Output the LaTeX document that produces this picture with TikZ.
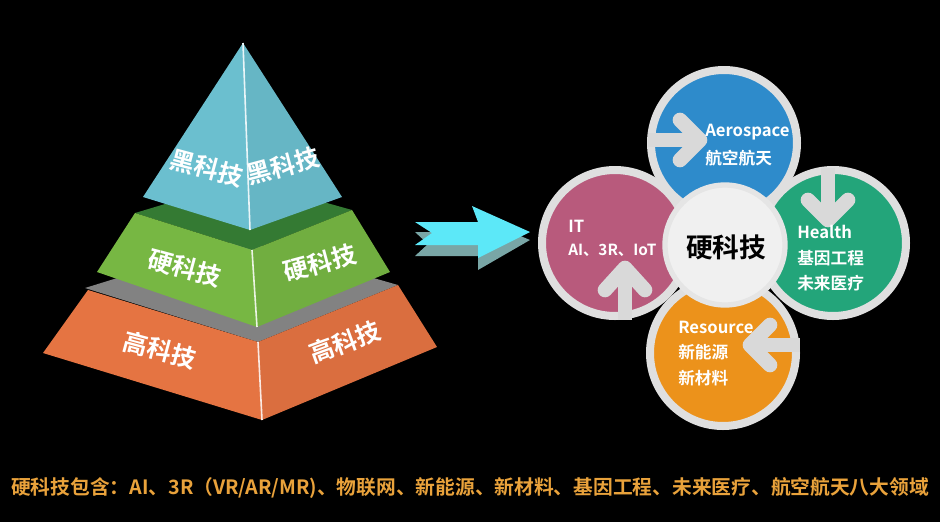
\documentclass[tikz,border=0pt]{standalone}
\usepackage{fontspec}
\setmainfont{Noto Sans CJK SC}[BoldFont={Noto Sans CJK SC Bold}]
\usepackage{tikz}
\usetikzlibrary{arrows.meta,positioning,calc}
\definecolor{topc}{HTML}{6BBFCF}
\definecolor{midc}{HTML}{77B743}
\definecolor{midd}{HTML}{347A33}
\definecolor{lowc}{HTML}{E57442}
\definecolor{blu}{HTML}{2E8BCB}
\definecolor{grn}{HTML}{23A57A}
\definecolor{org}{HTML}{EC921B}
\definecolor{pnk}{HTML}{B85A7C}
\definecolor{gold}{HTML}{E9A23B}
\definecolor{arr}{HTML}{5CE8F8}
\tikzset{
  lbl/.style={text=white, font=\bfseries\fontsize{18.5}{19}\selectfont, inner sep=0pt},
  ring/.style={draw=gray!25, line width=6pt},
  txt/.style={text=white, font=\bfseries\fontsize{12.5}{13}\selectfont, anchor=west, inner sep=0pt},
  garrow/.style={draw=gray!30, line width=11pt}
}
\begin{document}
\begin{tikzpicture}[x=0.75pt, y=-0.75pt]
    \fill[black] (0,0) rectangle (940,522);
    % Pyramid
    \fill[gray!60!black!70] (85,288) -- (240,240) -- (398,285) -- (258,342) -- cycle;
    \fill[lowc] (88,290) -- (258,342) -- (262,420) -- (43,353) -- cycle;
    \fill[lowc!95!black] (258,342) -- (398,285) -- (437,347) -- (262,420) -- cycle;
    \fill[midd] (135,213) -- (245,180) -- (352,210) -- (252,250) -- cycle;
    \fill[midc] (135,213) -- (252,250) -- (257,327) -- (97,272) -- cycle;
    \fill[midc!95!black] (252,250) -- (352,210) -- (390,272) -- (257,327) -- cycle;
    \fill[topc] (243,43) -- (250,230) -- (143,197) -- cycle;
    \fill[topc!95!black] (243,43) -- (342,197) -- (250,230) -- cycle;
    \draw[white!85!topc, line width=1.2pt] (243,43) -- (250,230);
    \draw[white!85!midc, line width=1.2pt] (252,250) -- (257,327);
    \draw[white!85!lowc, line width=1.2pt] (258,342) -- (262,420);
    \node[lbl, rotate=-15] (t1) at (207,168) {黑科技};
    \node[lbl, rotate=15] (t2) at (283,166) {黑科技};
    \node[lbl, rotate=-15] (m1) at (185,268) {硬科技};
    \node[lbl, rotate=15] (m2) at (320,263) {硬科技};
    \node[lbl, rotate=-15] (b1) at (160,350) {高科技};
    \node[lbl, rotate=20] (b2) at (345,342) {高科技};
    % Arrow
    \fill[gray!50!teal!70] (415,232) -- (478,232) -- (478,218) -- (530,240) -- (478,270) -- (478,256) -- (415,256) -- (428,244) -- cycle;
    \fill[arr] (415,222) -- (478,222) -- (472,206) -- (530,232) -- (478,258) -- (478,245) -- (415,245) -- (432,233) -- cycle;
    % Circles
    \filldraw[ring, fill=grn] (833,243) circle (73);
    \filldraw[ring, fill=pnk] (615,243) circle (73);
    \filldraw[ring, fill=blu] (724,143) circle (73);
    \filldraw[ring, fill=org] (723,353) circle (73);
    \draw[garrow] (648,140) -- (695,140);
    \draw[garrow, line cap=round, line join=round] (680,120) -- (700,140) -- (680,160);
    \draw[garrow] (828,168) -- (828,220);
    \draw[garrow, line cap=round, line join=round] (808,200) -- (828,220) -- (848,200);
    \draw[garrow] (800,345) -- (752,345);
    \draw[garrow, line cap=round, line join=round] (770,325) -- (750,345) -- (770,365);
    \draw[garrow] (625,320) -- (625,270);
    \draw[garrow, line cap=round, line join=round] (605,290) -- (625,268) -- (645,290);
    \filldraw[draw=gray!20, line width=4pt, fill=gray!12] (725,245) circle (60);
    \node[font=\bfseries\fontsize{20}{20}\selectfont] (core) at (726,247) {硬科技};
    \node[txt] (a1) at (705,132) {Aerospace};
    \node[txt] (a2) at (705,158) {航空航天};
    \node[txt] (h1) at (797,232) {Health};
    \node[txt] (h2) at (797,258) {基因工程};
    \node[txt] (h3) at (797,283) {未来医疗};
    \node[txt] (r1) at (678,327) {Resource};
    \node[txt] (r2) at (678,352) {新能源};
    \node[txt] (r3) at (678,378) {新材料};
    \node[txt] (i1) at (568,226) {IT};
    \node[txt, font=\bfseries\fontsize{11.5}{12}\selectfont] (i2) at (568,250) {AI、3R、IoT};
    % Caption
    \node[text=gold, font=\bfseries\fontsize{14.8}{15}\selectfont] (cap) at (470,488) {硬科技包含：AI、3R（VR/AR/MR)、物联网、新能源、新材料、基因工程、未来医疗、航空航天八大领域};
\end{tikzpicture}
\end{document}
